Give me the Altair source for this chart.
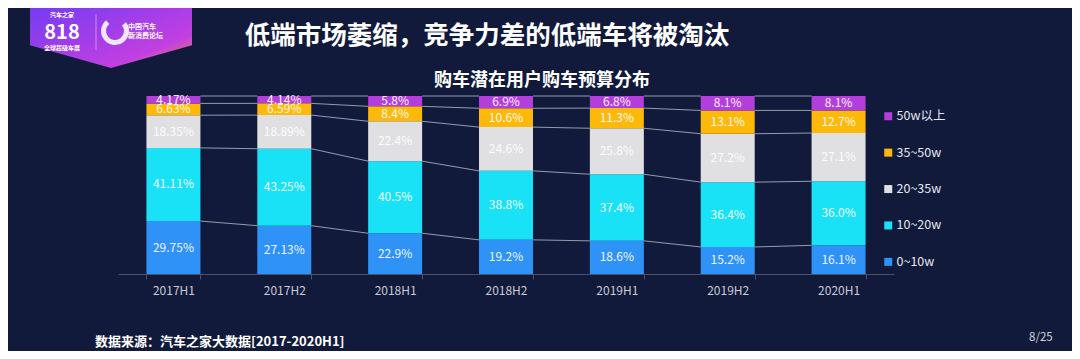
import altair as alt
import pandas as pd

# ---------------- data ----------------
periods = ["2017H1", "2017H2", "2018H1", "2018H2", "2019H1", "2019H2", "2020H1"]
segments = ["0~10w", "10~20w", "20~35w", "35~50w", "50w以上"]
v_0_10 = [29.75, 27.13, 22.9, 19.2, 18.6, 15.2, 16.1]
v_10_20 = [41.11, 43.25, 40.5, 38.8, 37.4, 36.4, 36.0]
v_20_35 = [18.35, 18.89, 22.4, 24.6, 25.8, 27.2, 27.1]
v_35_50 = [6.63, 6.59, 8.4, 10.6, 11.3, 13.1, 12.7]
v_50p = [4.17, 4.14, 5.8, 6.9, 6.8, 8.1, 8.1]
decimals = [2, 2, 1, 1, 1, 1, 1]
colors = ["#2f92f6", "#19e2f7", "#e0e0e2", "#fdb90a", "#b23fdc"]

title_main = "低端市场萎缩，竞争力差的低端车将被淘汰"
title_chart = "购车潜在用户购车预算分布"
source_text = "数据来源：汽车之家大数据[2017-2020H1]"
page_text = "8/25"

series = [v_0_10, v_10_20, v_20_35, v_35_50, v_50p]

# ---------------- tables ----------------
rows = []
cums = []
for i, p in enumerate(periods):
    vals = [s[i] for s in series]
    tot = sum(vals)
    c = 0.0
    bounds = []
    for k, seg in enumerate(segments):
        lo = c / tot
        c += vals[k]
        hi = c / tot
        bounds.append(hi)
        rows.append({
            "period": p, "seg": seg, "lo": lo, "hi": hi, "mid": (lo + hi) / 2,
            "label": f"{vals[k]:.{decimals[i]}f}%",
        })
    cums.append(bounds)
bars_df = pd.DataFrame(rows)

line_rows = []
for i in range(len(periods) - 1):
    for k in range(len(segments)):
        line_rows.append({
            "period": periods[i], "period_next": periods[i + 1],
            "y": cums[i][k], "y_next": cums[i + 1][k],
        })
lines_df = pd.DataFrame(line_rows)

FONT = "Noto Sans CJK SC"
W, H = 776, 178

xscale = alt.Scale(domain=periods, paddingInner=0.513, paddingOuter=0.2565)
yscale = alt.Scale(domain=[0, 1])

xaxis = alt.Axis(
    title=None, labelAngle=0, labelColor="#c9ccd4", labelFontSize=12,
    labelFont=FONT, domainColor="#4a5068", tickColor="#4a5068",
    tickSize=5, labelPadding=6, tickBand="extent", grid=False,
)

legend_order = list(reversed(segments))
legend_colors = list(reversed(colors))

bars = alt.Chart(bars_df).mark_bar().encode(
    x=alt.X("period:N", scale=xscale, axis=xaxis, sort=periods),
    y=alt.Y("lo:Q", scale=yscale, axis=None),
    y2="hi:Q",
    color=alt.Color(
        "seg:N",
        scale=alt.Scale(domain=legend_order, range=legend_colors),
        legend=alt.Legend(
            title=None, orient="none", legendX=764, legendY=14,
            symbolType="square", symbolSize=64, symbolStrokeWidth=0,
            labelFontSize=12.5, labelColor="#e6e8ee", labelFont=FONT,
            rowPadding=23.4, labelOffset=2,
        ),
    ),
)

lines = alt.Chart(lines_df).mark_rule(color="#aab1c2", strokeWidth=1, opacity=0.85).encode(
    x=alt.X("period:N", scale=xscale, bandPosition=1, sort=periods),
    x2=alt.X2("period_next:N", bandPosition=0),
    y=alt.Y("y:Q", scale=yscale),
    y2="y_next:Q",
)

labels = alt.Chart(bars_df).mark_text(
    font=FONT, fontSize=12, color="#ffffff", opacity=0.92, baseline="middle"
).encode(
    x=alt.X("period:N", scale=xscale, sort=periods),
    y=alt.Y("mid:Q", scale=yscale),
    text="label:N",
)


def txt(s, x, y, size, weight="normal", color="#ffffff", align="center"):
    return alt.Chart(pd.DataFrame({"t": [s]})).mark_text(
        font=FONT, fontSize=size, fontWeight=weight, color=color, align=align,
        baseline="alphabetic",
    ).encode(x=alt.value(x), y=alt.value(y), text="t:N")


# logo banner (decorative)
banner = alt.Chart(pd.DataFrame({"t": ["logo"]})).mark_point(
    shape="M-1,-0.42 L1,-0.42 L1,0.14 L0,0.42 L-1,0.14 Z",
    size=26244, filled=True, opacity=1,
    fill=alt.Gradient(
        gradient="linear", x1=0, y1=0, x2=1, y2=1,
        stops=[alt.GradientStop(offset=0, color="#6d3cf2"),
               alt.GradientStop(offset=0.75, color="#c23fe2"),
               alt.GradientStop(offset=1, color="#f08a4a")],
    ),
    strokeWidth=0,
).encode(x=alt.value(-7), y=alt.value(-62))

logo_818 = txt("818", -56, -57, 20, "bold")
logo_small = txt("汽车之家", -56, -79, 6, "bold")
logo_sub = txt("全球超级车展", -56, -46, 6, "bold")
logo_sep = alt.Chart(pd.DataFrame({"t": [0]})).mark_rule(color="#e6c8ff", strokeWidth=0.6).encode(
    x=alt.value(-22), y=alt.value(-82), y2=alt.value(-46)
)
logo_c = alt.Chart(pd.DataFrame({"t": [0]})).mark_arc(
    innerRadius=9, outerRadius=14, theta=0.9, theta2=5.6, color="#efe6ff"
).encode(x=alt.value(-3), y=alt.value(-65))
logo_name1 = txt("中国汽车", 10, -67, 7, "bold", align="left")
logo_name2 = txt("新消费论坛", 10, -58, 7, "bold", align="left")

chart = alt.layer(
    banner, logo_sep, logo_c, logo_818, logo_small, logo_sub, logo_name1, logo_name2,
    bars, lines, labels,
    txt(title_main, 369, -52, 25.5, "bold"),
    txt(title_chart, 424, -10, 18, "bold"),
    txt(source_text, -23, 250, 13, "bold", align="left"),
    txt(page_text, 911, 245, 11.5, "normal", color="#d0d4de", align="left"),
).properties(
    width=W, height=H,
    padding={"left": 110, "top": 88, "right": 178, "bottom": 77},
    autosize=alt.AutoSizeParams(type="none"),
    background="#111a3b",
).configure_view(stroke=None)

chart.save("out.html", embed_options={"renderer": "svg", "actions": False})
